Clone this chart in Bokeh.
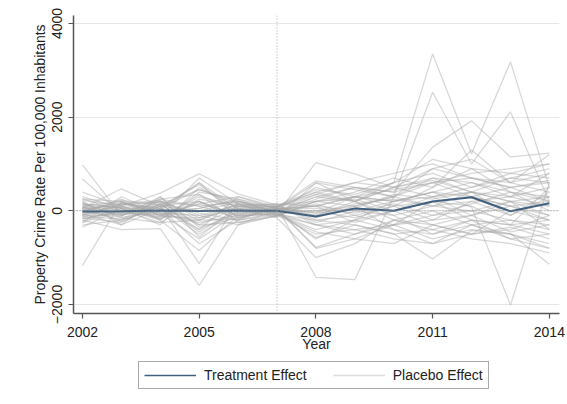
from bokeh.plotting import figure
from bokeh.layouts import column
from bokeh.models import Span, Legend, LegendItem, FixedTicker, Range1d
from bokeh.embed import file_html
from bokeh.resources import INLINE

years = list(range(2002, 2015))
x_ticks = [2002, 2005, 2008, 2011, 2014]
y_ticks = [-2000, 0, 2000, 4000]
treatment_year = 2007

treatment = [-15, -10, 5, -5, 5, 0, -120, 50, 0, 200, 290, -10, 160]

placebo_01 = [980, -100, 120, 450, 150, 80, 350, 200, 500, 650, 400, 700, 900]
placebo_02 = [680, -50, 250, 100, -150, 50, 600, 450, 300, 900, 1100, 600, 800]
placebo_03 = [-1170, 200, -100, -200, 100, -50, -300, -200, -400, -500, -300, -600, -800]
placebo_04 = [400, 100, 376, 790, 360, 120, 200, 300, 450, 600, 700, 500, 650]
placebo_05 = [-200, -400, -380, -1595, -300, -100, -500, -400, -600, -700, -500, -350, -600]
placebo_06 = [-300, -200, 100, -1130, 200, 50, -800, -600, -300, -200, -100, -450, -300]
placebo_07 = [100, 200, -200, -850, -100, 100, 400, 600, 500, 700, 400, 300, 500]
placebo_08 = [-100, 150, 50, -705, -200, -80, -200, -100, 100, 200, 300, 100, 200]
placebo_09 = [200, -300, 300, -560, 100, 150, 100, 300, 200, 400, 600, 400, 300]
placebo_10 = [50, 470, 100, 560, -50, -30, 300, 500, 400, 1360, 1920, 1150, 1230]
placebo_11 = [-350, 50, -200, 400, 250, 60, -100, 200, 600, 3350, 1220, 3180, 500]
placebo_12 = [150, -100, 200, -300, -250, -120, 200, 100, 300, 2530, 1000, 2110, 200]
placebo_13 = [-50, 100, -150, 300, 100, 20, 100, 0, 200, 400, 80, -2010, 600]
placebo_14 = [250, 200, -100, 200, -100, -60, 1030, 790, 500, 900, 700, 600, 400]
placebo_15 = [-150, -250, 150, -400, 300, 90, -1420, -1470, 300, 100, 400, 200, 300]
placebo_16 = [300, 50, -300, 500, 50, -150, -1000, -700, -200, -400, -200, -300, -500]
placebo_17 = [-250, 300, -50, -100, -300, 30, -780, -500, -300, -100, 0, -200, -400]
placebo_18 = [100, -50, 200, 100, 200, -40, -570, -300, -490, -1030, -420, -500, -700]
placebo_19 = [-80, 150, 50, 600, -150, 70, 640, 500, 400, 600, 800, 900, 1000]
placebo_20 = [180, -150, -250, -200, 150, -90, -300, -400, -300, -600, -400, -490, -1140]
placebo_21 = [-220, 80, 100, 200, -200, 110, -200, -300, -500, -400, -600, -700, -900]
placebo_22 = [30, -200, 150, -450, 50, -20, 300, 200, -100, 100, 200, 300, 100]
placebo_23 = [-30, 250, -100, 150, 300, 40, 100, 300, 600, 800, 500, 700, 600]
placebo_24 = [120, 0, -50, -250, -100, -70, -400, -200, 0, -300, -100, 100, -200]
placebo_25 = [-120, -180, 250, 350, -50, 10, 500, 300, 200, 300, 500, 800, 700]
placebo_26 = [60, 100, -120, -150, 150, -110, 200, 400, 700, 500, 900, 400, 200]
placebo_27 = [-60, -300, 50, 450, 200, 60, -150, 100, 300, 600, 300, 100, -100]
placebo_28 = [220, 120, 180, -50, -200, -30, 0, -150, 100, -200, 200, -100, 400]
placebo_29 = [-180, 20, -250, 250, 100, 80, 400, 200, -200, 0, -300, -200, -300]
placebo_30 = [80, -120, 300, -350, -150, 20, -100, 150, 250, 100, 0, 200, 100]
placebo_31 = [0, 180, -30, 50, 250, -50, 250, 500, 300, 700, 600, 300, 800]
placebo_32 = [-100, -80, 80, -500, 0, 130, -300, -500, -200, -300, -500, -400, -100]
placebo_33 = [160, 60, -180, 350, -250, -100, 150, -100, -300, 200, 100, -300, -200]
placebo_34 = [-40, 220, 120, -300, 80, 50, -50, 300, 100, 500, 1300, 600, 1200]
placebo_35 = [40, -60, -80, 150, -80, -10, 350, 600, 800, 1000, 700, 500, 200]
placebo_36 = [-140, 130, 200, -100, 120, 140, -250, 0, -100, -500, -200, -600, -500]
placebo_37 = [260, -20, 0, 600, 30, -130, 600, 200, 500, 300, 400, -100, 300]
placebo_38 = [-260, 40, -60, -600, -50, 40, 100, -250, 0, 300, -100, 200, -400]
placebo_39 = [90, -230, 100, 0, 180, 0, -600, -200, 200, 400, 300, 500, 600]
placebo_40 = [-90, 90, -170, 200, -120, -60, 0, 100, -400, -700, -300, -500, -800]
placebo_41 = [20, 160, 220, -150, 40, 100, 450, 350, 600, 1100, 900, 800, 1000]
placebo_42 = [-20, -140, -20, 50, 220, -80, -450, -600, -700, -300, -500, 0, -200]
placebo_43 = [140, 60, 40, -400, -20, 30, 50, -50, 150, -100, 150, 400, 0]
placebo_44 = [-160, -30, -130, 700, 140, -20, 200, 250, 0, 200, -200, -300, 500]
placebo_45 = [70, -90, 160, -200, -180, 70, -50, 50, 350, 250, 400, 200, -100]

placebos = [
    placebo_01, placebo_02, placebo_03, placebo_04, placebo_05, placebo_06,
    placebo_07, placebo_08, placebo_09, placebo_10, placebo_11, placebo_12,
    placebo_13, placebo_14, placebo_15, placebo_16, placebo_17, placebo_18,
    placebo_19, placebo_20, placebo_21, placebo_22, placebo_23, placebo_24,
    placebo_25, placebo_26, placebo_27, placebo_28, placebo_29, placebo_30,
    placebo_31, placebo_32, placebo_33, placebo_34, placebo_35, placebo_36,
    placebo_37, placebo_38, placebo_39, placebo_40, placebo_41, placebo_42,
    placebo_43, placebo_44, placebo_45,
]

FONT = "Liberation Sans"
AXIS_COL = "#555555"
TREAT_COL = "#41607f"
PLACEBO_COL = "#a8a8a8"

p = figure(
    frame_width=486, frame_height=298,
    x_range=Range1d(2001.77, 2014.26), y_range=Range1d(-2193, 4170),
    output_backend="svg", toolbar_location=None,
    min_border_left=73, min_border_top=15, min_border_right=7, min_border_bottom=46,
    background_fill_color="white", border_fill_color="white",
)
p.outline_line_color = None
p.xgrid.visible = False
p.ygrid.grid_line_color = "#e6e6e6"
p.ygrid.grid_line_width = 1

for series in placebos:
    p.line(years, series, line_color=PLACEBO_COL, line_alpha=0.45, line_width=1.3)

p.add_layout(Span(location=0, dimension="width", line_color="#999999",
                  line_dash="1 2", line_width=1))
p.add_layout(Span(location=treatment_year, dimension="height", line_color="#aaaaaa",
                  line_dash="1 2", line_width=1))

p.line(years, treatment, line_color=TREAT_COL, line_width=2)

for ax in (p.xaxis[0], p.yaxis[0]):
    ax.axis_line_color = AXIS_COL
    ax.axis_line_width = 1.5
    ax.major_tick_line_color = AXIS_COL
    ax.major_tick_line_width = 1.2
    ax.major_tick_out = 5
    ax.major_tick_in = 0
    ax.minor_tick_line_color = None
    ax.major_label_text_font = FONT
    ax.major_label_text_font_size = "14px"
    ax.major_label_text_color = "#222222"
    ax.axis_label_text_font = FONT
    ax.axis_label_text_font_size = "14px"
    ax.axis_label_text_font_style = "normal"
    ax.axis_label_text_color = "#222222"

p.xaxis.ticker = FixedTicker(ticks=x_ticks)
p.yaxis.ticker = FixedTicker(ticks=y_ticks)
p.ygrid.ticker = FixedTicker(ticks=y_ticks)
p.xaxis.axis_label = "Year"
p.yaxis.axis_label = "Property Crime Rate Per 100,000 Inhabitants"
p.xaxis.major_label_standoff = 8
p.xaxis.axis_label_standoff = -4
p.yaxis.major_label_standoff = 6
p.yaxis.axis_label_standoff = 2
p.yaxis.major_label_orientation = "vertical"

# legend strip beneath the chart
lg = figure(
    width=566, height=40, x_range=Range1d(0, 1), y_range=Range1d(0, 1),
    output_backend="svg", toolbar_location=None,
    x_axis_type=None, y_axis_type=None, min_border=0,
    background_fill_color="white", border_fill_color="white",
)
lg.outline_line_color = None
lg.grid.visible = False
r_t = lg.line(x=[-5, -4], y=[-5, -5], line_color=TREAT_COL, line_width=1.5)
r_p = lg.line(x=[-5, -4], y=[-5, -5], line_color="#dcdcdc", line_width=1.3)

legend = Legend(
    items=[LegendItem(label="Treatment Effect", renderers=[r_t]),
           LegendItem(label="Placebo Effect", renderers=[r_p])],
    orientation="horizontal", location=(65, 10),
    glyph_width=52, glyph_height=16, label_height=16, label_standoff=8,
    spacing=26, padding=5, margin=0,
    border_line_color=AXIS_COL, border_line_width=1,
    label_text_font=FONT, label_text_font_size="14px", label_text_color="#222222",
    background_fill_color="white", background_fill_alpha=1,
)
lg.add_layout(legend, "center")

open("out.html", "w").write(file_html(column(p, lg, spacing=0), INLINE))
